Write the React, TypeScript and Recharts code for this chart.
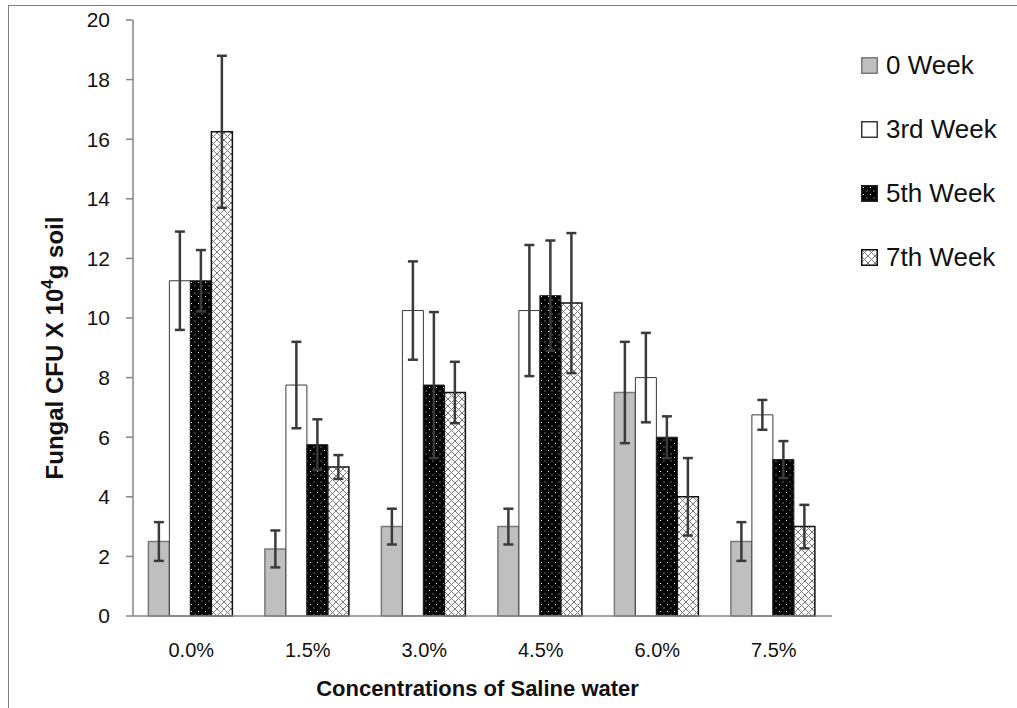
import { Bar, BarChart, ErrorBar, Label, Legend, XAxis, YAxis } from "recharts";

const categories = ["0.0%", "1.5%", "3.0%", "4.5%", "6.0%", "7.5%"];
const week0 = [2.5, 2.25, 3.0, 3.0, 7.5, 2.5];
const week3 = [11.25, 7.75, 10.25, 10.25, 8.0, 6.75];
const week5 = [11.25, 5.75, 7.75, 10.75, 6.0, 5.25];
const week7 = [16.25, 5.0, 7.5, 10.5, 4.0, 3.0];
const err0 = [0.65, 0.62, 0.6, 0.6, 1.7, 0.65];
const err3 = [1.65, 1.45, 1.65, 2.2, 1.5, 0.5];
const err5 = [1.03, 0.85, 2.45, 1.85, 0.7, 0.62];
const err7 = [2.55, 0.4, 1.03, 2.35, 1.3, 0.73];
const yTicks = [0, 2, 4, 6, 8, 10, 12, 14, 16, 18, 20];

const data = categories.map((c, i) => ({
  name: c,
  w0: week0[i],
  w3: week3[i],
  w5: week5[i],
  w7: week7[i],
  e0: err0[i],
  e3: err3[i],
  e5: err5[i],
  e7: err7[i],
}));

const FONT = "'Liberation Sans', Arial, sans-serif";
const AXIS = "#868686";

const series = [
  { key: "w0", err: "e0", name: "0 Week", fill: "#bfbfbf", stroke: "#7a7a7a", sw: 1.5 },
  { key: "w3", err: "e3", name: "3rd Week", fill: "#ffffff", stroke: "#3a3a3a", sw: 1 },
  { key: "w5", err: "e5", name: "5th Week", fill: "url(#dots)", stroke: "#222222", sw: 1 },
  { key: "w7", err: "e7", name: "7th Week", fill: "url(#cross)", stroke: "#111111", sw: 1.5 },
];

function LegendContent() {
  return (
    <div style={{ fontFamily: FONT, fontSize: 26, color: "#111" }}>
      {series.map((s) => (
        <div key={s.key} style={{ display: "flex", alignItems: "center", height: 64 }}>
          <svg width={17} height={17} style={{ marginRight: 8 }}>
            <rect x={0.75} y={0.75} width={15.5} height={15.5} fill={s.fill} stroke={s.stroke} strokeWidth={1.5} />
          </svg>
          <span>{s.name}</span>
        </div>
      ))}
    </div>
  );
}

function YTitle(props: any) {
  const vb = props.viewBox || { x: 0, y: 20, width: 133, height: 596 };
  const cy = vb.y + vb.height / 2 + 30;
  return (
    <text
      transform="rotate(-90)"
      x={-cy}
      y={63}
      textAnchor="middle"
      fontFamily={FONT}
      fontWeight="bold"
      fontSize={24}
      fill="#111"
    >
      Fungal CFU X 10
      <tspan dy={-10} fontSize={17}>4</tspan>
      <tspan dy={10}>g soil</tspan>
    </text>
  );
}

export default function App() {
  return (
    <div style={{ position: "absolute", left: 0, top: 0, width: 1017, height: 708, overflow: "hidden", background: "#fff" }}>
      <BarChart
        width={1017}
        height={708}
        data={data}
        margin={{ top: 20, right: 185, left: 0, bottom: 0 }}
        barCategoryGap="13.2%"
        barGap={0}
      >
        <defs>
          <pattern id="dots" width={7} height={7} patternUnits="userSpaceOnUse">
            <rect width={7} height={7} fill="#000" />
            <rect x={2} y={2} width={1} height={1} fill="#fff" />
            <rect x={5.5} y={5.5} width={1} height={1} fill="#ddd" />
          </pattern>
          <pattern id="cross" width={7} height={7} patternUnits="userSpaceOnUse">
            <rect width={7} height={7} fill="#fff" />
            <path d="M0,0 L7,7 M7,0 L0,7" stroke="#7a7a7a" strokeWidth={1} />
          </pattern>
        </defs>
        <XAxis
          dataKey="name"
          height={92}
          axisLine={{ stroke: AXIS, strokeWidth: 1.5 }}
          tickLine={false}
          tickMargin={21}
          tick={{ fontSize: 20, fontFamily: FONT, fill: "#111" }}
        >
          <Label
            value="Concentrations of Saline water"
            position="insideBottom"
            offset={12}
            dx={-5}
            style={{ fontSize: 22, fontWeight: "bold", fontFamily: FONT, fill: "#111" }}
          />
        </XAxis>
        <YAxis
          width={133}
          domain={[0, 20]}
          ticks={yTicks}
          interval={0}
          axisLine={{ stroke: AXIS, strokeWidth: 1.5 }}
          tickLine={{ stroke: AXIS, strokeWidth: 1.5 }}
          tickSize={7}
          tickMargin={16}
          tick={{ fontSize: 21, fontFamily: FONT, fill: "#111" }}
        >
          <Label content={<YTitle />} />
        </YAxis>
        <Legend
          layout="vertical"
          align="center"
          verticalAlign="middle"
          content={<LegendContent />}
          wrapperStyle={{ left: 861, top: 33, width: 160, height: 260 }}
        />
        {series.map((s) => (
          <Bar
            key={s.key}
            dataKey={s.key}
            name={s.name}
            fill={s.fill}
            stroke={s.stroke}
            strokeWidth={s.sw}
            isAnimationActive={false}
          >
            <ErrorBar
              dataKey={s.err}
              direction="y"
              width={5}
              stroke="#3a3a3a"
              strokeWidth={2.5}
              isAnimationActive={false}
            />
          </Bar>
        ))}
      </BarChart>
      <div
        style={{
          position: "absolute",
          left: 8,
          top: 5,
          width: 1030,
          height: 730,
          border: "1px solid #7f7f7f",
          pointerEvents: "none",
        }}
      />
    </div>
  );
}
